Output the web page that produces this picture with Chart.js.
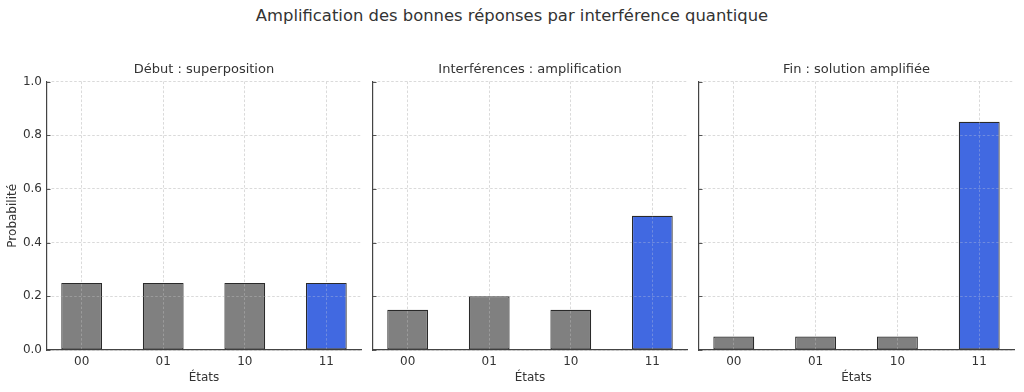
<!DOCTYPE html>
<html><head><meta charset="utf-8">
<script src="https://cdn.jsdelivr.net/npm/chart.js@4"></script>
<style>
body{margin:0;width:1024px;height:392px;background:#fff;overflow:hidden;position:relative;font-family:'DejaVu Sans',sans-serif}
#title{position:absolute;top:6px;left:0;width:1024px;text-align:center;font-size:16.4px;color:#333}
canvas{position:absolute;top:0}
</style></head><body>
<div id="title">Amplification des bonnes réponses par interférence quantique</div>
<canvas id="c1" width="365" height="392" style="left:0"></canvas>
<canvas id="c2" width="326" height="392" style="left:365px"></canvas>
<canvas id="c3" width="333" height="392" style="left:691px"></canvas>
<script>
const categories = ['00', '01', '10', '11'];
const debut = [0.25, 0.25, 0.25, 0.25];
const interferences = [0.15, 0.20, 0.15, 0.50];
const fin = [0.05, 0.05, 0.05, 0.85];
const panelTitles = ['Début : superposition', 'Interférences : amplification', 'Fin : solution amplifiée'];
const xTitle = 'États';
const yTitle = 'Probabilité';

const GRAY = '#808080', BLUE = '#4169E1';
const colorsFor = n => categories.map((c, i) => i === n - 1 ? BLUE : GRAY);
const TXT = '#333';
Chart.defaults.font.family = "'DejaVu Sans', sans-serif";

const overlayGrid = {
  id: 'overlayGrid',
  afterDatasetsDraw(chart) {
    const ctx = chart.ctx, area = chart.chartArea;
    ctx.save();
    ctx.globalAlpha = 0.3;
    chart.scales.x.drawGrid(area);
    chart.scales.y.drawGrid(area);
    ctx.restore();
    // inward tick marks on the left spine
    const y = chart.scales.y;
    ctx.save();
    ctx.strokeStyle = '#555';
    ctx.lineWidth = 1;
    y.ticks.forEach(t => {
      const py = Math.round(y.getPixelForValue(t.value)) + 0.5;
      ctx.beginPath();
      ctx.moveTo(area.left, py);
      ctx.lineTo(area.left + 3.5, py);
      ctx.stroke();
    });
    ctx.restore();
  }
};

function makePanel(id, title, values, first, rightPad) {
  new Chart(document.getElementById(id), {
    type: 'bar',
    data: {
      datasets: [{
        data: values.map((v, i) => ({x: i, y: v})),
        backgroundColor: colorsFor(categories.length),
        borderColor: '#2a2a2a',
        borderWidth: 1.2,
        borderSkipped: false,
        barPercentage: 0.5,
        categoryPercentage: 1
      }]
    },
    plugins: [overlayGrid],
    options: {
      responsive: false,
      animation: false,
      layout: {padding: {top: 55, right: rightPad, left: 0, bottom: 0}},
      plugins: {
        legend: {display: false},
        tooltip: {enabled: false},
        title: {display: true, fullSize: false, text: title, color: TXT, font: {size: 13, weight: 'normal'}, padding: {top: 7, bottom: 4}}
      },
      scales: {
        x: {
          type: 'linear',
          min: -0.425, max: 3.425,
          offset: false,
          grid: {offset: false, color: '#dadada', drawTicks: false},
          border: {display: true, color: '#444', width: 1.2, dash: [2.5, 2]},
          ticks: {
            stepSize: 1, includeBounds: false, autoSkip: false, maxRotation: 0, padding: 5,
            color: TXT, font: {size: 12},
            callback: v => categories[v] !== undefined ? categories[v] : ''
          },
          title: {display: true, text: xTitle, color: TXT, font: {size: 12}, padding: {top: 2, bottom: 7}},
          afterFit: s => { s.height = 42; }
        },
        y: {
          min: 0, max: 1,
          grid: {color: '#dadada', drawTicks: false},
          border: {display: true, color: '#444', width: 1.2, dash: [2.5, 2]},
          ticks: {
            display: first, stepSize: 0.2, padding: 5, color: TXT, font: {size: 12},
            callback: v => v.toFixed(1)
          },
          title: {display: first, text: yTitle, color: TXT, font: {size: 12}, padding: {top: 6, bottom: 4}},
          afterFit: s => { s.width = first ? 47 : 8; }
        }
      }
    }
  });
}
makePanel('c1', panelTitles[0], debut, true, 4);
makePanel('c2', panelTitles[1], interferences, false, 4);
makePanel('c3', panelTitles[2], fin, false, 10);
</script>
</body></html>
